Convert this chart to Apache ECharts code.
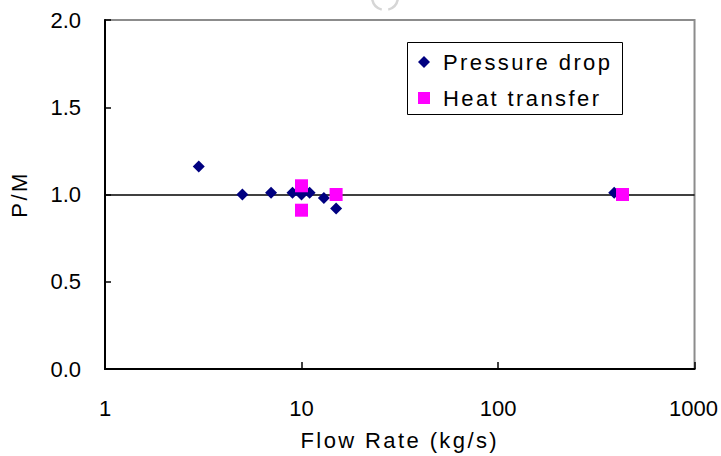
<!DOCTYPE html>
<html>
<head>
<meta charset="utf-8">
<script src="https://cdn.jsdelivr.net/npm/echarts@6/dist/echarts.min.js"></script>
<style>
  html, body { margin: 0; padding: 0; background: #fff; }
  #chart { width: 721px; height: 456px; }
</style>
</head>
<body>
<div id="chart"></div>
<script>
// Flow rate (kg/s) and P/M ratio for each measurement set
const pressureDropFlow = [3, 5, 7, 9, 10, 11, 13, 15, 390];
const pressureDropRatio = [1.16, 1.00, 1.01, 1.01, 1.00, 1.01, 0.98, 0.92, 1.01];
const heatTransferFlow = [10, 10, 15, 430];
const heatTransferRatio = [1.05, 0.91, 1.00, 1.00];
const seriesNames = ['Pressure drop', 'Heat transfer'];
const yTicks = [0, 0.5, 1.0, 1.5, 2.0];
const xTicks = [1, 10, 100, 1000];
const referenceRatio = 1.0;

const pair = (xs, ys) => xs.map((x, i) => [x, ys[i]]);
const FONT = "'Liberation Sans', Arial, sans-serif";
const FS = 22;

const chart = echarts.init(document.getElementById('chart'), null, { renderer: 'svg' });

chart.setOption({
  backgroundColor: '#ffffff',
  animation: false,
  textStyle: { fontFamily: FONT },
  grid: {
    left: 104, top: 20, width: 594, height: 349,
    show: true, borderColor: '#8c8c8c', borderWidth: 2, backgroundColor: '#ffffff'
  },
  graphic: [
    {
      // faint emblem edge peeking in at the top
      type: 'arc',
      shape: { cx: 385, cy: -3, r: 13, startAngle: Math.PI * 0.58, endAngle: Math.PI * 0.95 },
      style: { stroke: '#d6d6d6', lineWidth: 2.5, fill: null },
      silent: true
    },
    {
      type: 'arc',
      shape: { cx: 385, cy: -3, r: 13, startAngle: Math.PI * 0.05, endAngle: Math.PI * 0.42 },
      style: { stroke: '#d6d6d6', lineWidth: 2.5, fill: null },
      silent: true
    },
    {
      type: 'rect',
      shape: { x: 407.5, y: 42.5, width: 215, height: 72 },
      style: { fill: '#ffffff', stroke: '#000000', lineWidth: 1 },
      z: 5
    }
  ],
  legend: {
    orient: 'vertical',
    left: 407, top: 42,
    padding: [8, 10, 4, 11],
    itemWidth: 12, itemHeight: 12,
    itemGap: 12,
    z: 10,
    data: [
      { name: seriesNames[0], icon: 'diamond' },
      { name: seriesNames[1], icon: 'rect' }
    ],
    textStyle: { fontSize: FS, color: '#000', fontFamily: FONT, lineHeight: 24, padding: [0, 0, 0, 8] }
  },
  xAxis: {
    type: 'log',
    logBase: 10,
    min: xTicks[0],
    max: xTicks[xTicks.length - 1],
    name: 'Flow Rate (kg/s)',
    nameLocation: 'middle',
    nameGap: 60,
    nameTextStyle: { fontSize: FS, color: '#000', fontFamily: FONT },
    axisLine: { lineStyle: { color: '#000', width: 2 } },
    axisTick: { inside: true, length: 7, lineStyle: { color: '#000', width: 1.5 } },
    axisLabel: {
      fontSize: FS, color: '#000', margin: 28, fontFamily: FONT,
      formatter: v => {
        const s = String(Math.round(v));
        return v >= xTicks[xTicks.length - 1] ? '{edge|' + s + '}' : s;
      },
      rich: { edge: { fontSize: FS, color: '#000', fontFamily: FONT, padding: [0, 2, 0, 0] } }
    },
    splitLine: { show: false },
    minorTick: { show: false }
  },
  yAxis: {
    type: 'value',
    min: yTicks[0],
    max: yTicks[yTicks.length - 1],
    interval: 0.5,
    name: 'P/M',
    nameLocation: 'middle',
    nameGap: 75,
    nameRotate: 90,
    nameTextStyle: { fontSize: FS, color: '#000', fontFamily: FONT },
    axisLine: { show: true, lineStyle: { color: '#000', width: 2 } },
    axisTick: { show: true, inside: true, length: 6, lineStyle: { color: '#000', width: 1.5 } },
    axisLabel: {
      fontSize: FS, color: '#000', margin: 24, fontFamily: FONT,
      formatter: v => v.toFixed(1)
    },
    splitLine: { show: false }
  },
  series: [
    {
      name: seriesNames[0],
      type: 'scatter',
      symbol: 'diamond',
      symbolSize: 12,
      itemStyle: { color: '#000080', opacity: 1 },
      data: pair(pressureDropFlow, pressureDropRatio),
      markLine: {
        silent: true,
        symbol: 'none',
        label: { show: false },
        lineStyle: { color: '#000', width: 1.5, type: 'solid' },
        data: [{ yAxis: referenceRatio }],
        z: 1
      },
      z: 3
    },
    {
      name: seriesNames[1],
      type: 'scatter',
      symbol: 'rect',
      symbolSize: 13,
      itemStyle: { color: '#ff00ff', opacity: 1 },
      data: pair(heatTransferFlow, heatTransferRatio),
      z: 4
    }
  ]
});

// Word labels are set with wider tracking than the numeric tick labels
document.querySelectorAll('#chart text').forEach(t => {
  if (/[A-Za-z]/.test(t.textContent)) t.style.letterSpacing = '2.4px';
});
</script>
</body>
</html>
